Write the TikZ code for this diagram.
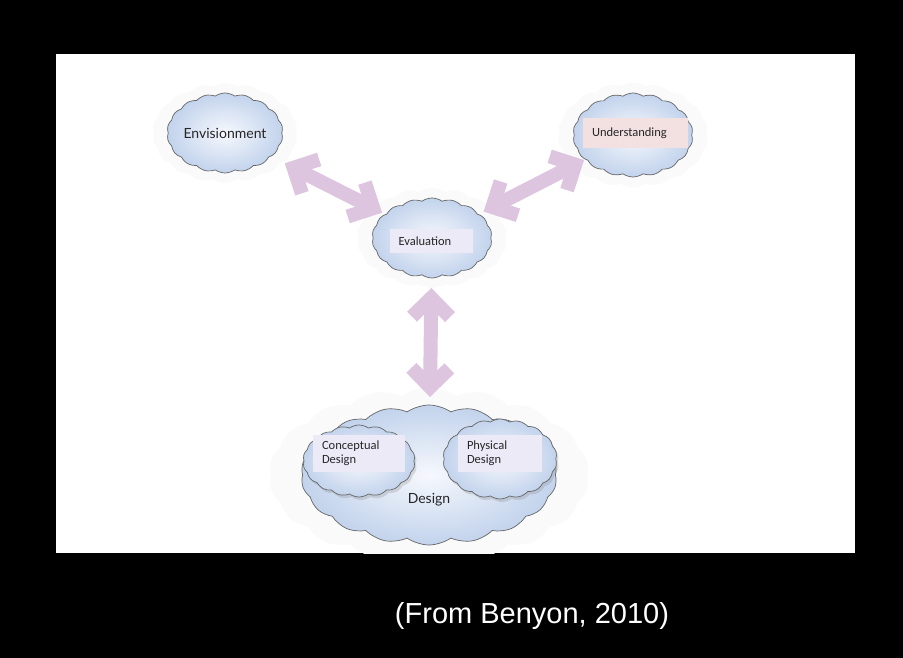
\documentclass[tikz,border=0pt]{standalone}
\usepackage{fontspec}
\setmainfont{Carlito}
\newfontfamily\gillfont{Lato}
\newfontfamily\arialfont{Liberation Sans}
\usetikzlibrary{shapes.symbols, shadows, arrows.meta}

\definecolor{cloudin}{RGB}{246,248,253}
\definecolor{cloudout}{RGB}{194,211,236}
\definecolor{arrowpink}{RGB}{221,197,223}
\definecolor{boxpink}{RGB}{243,225,226}
\definecolor{boxlilac}{RGB}{236,234,247}

\begin{document}
\begin{tikzpicture}[x=1pt,y=-1pt,
    bubble/.style={cloud, cloud puffs=18, cloud puff arc=70, cloud ignores aspect,
      draw=black!60, line width=0.7pt, inner color=cloudin, outer color=cloudout,
      drop shadow={opacity=0.25, shadow xshift=2pt, shadow yshift=-3pt}},
    glow/.style={general shadow={fill=black!2, shadow scale=1.25}},
    tag/.style={font=\fontsize{12.5}{14}\selectfont, text=black!85, text width=#1,
      align=left, inner xsep=9pt, inner ysep=2pt},
    link/.style={{Straight Barb[length=19pt,width=38pt,line cap=butt,line join=miter]}-{Straight Barb[length=19pt,width=38pt,line cap=butt,line join=miter]},
      draw=arrowpink, line width=14pt}]
    \useasboundingbox (0,0) rectangle (903,658);
    \fill[black] (0,0) rectangle (903,658);
    \fill[white] (56,54) rectangle (855,553);

    \begin{scope}
    \clip (56,54) rectangle (855,553);
    % clouds
    \node[bubble, glow, minimum width=116pt, minimum height=80pt] (envi) at (225,133) {};
    \node[bubble, glow, minimum width=120pt, minimum height=84pt] (und) at (633,135) {};
    \node[bubble, glow, minimum width=120pt, minimum height=80pt] (eval) at (432,238) {};
    \node[bubble, glow, minimum width=256pt, minimum height=140pt] (design) at (429,475) {};
    \node[bubble, minimum width=112pt, minimum height=72pt] (concept) at (359,461) {};
    \node[bubble, minimum width=114pt, minimum height=80pt] (phys) at (500,459) {};
    \end{scope}

    % labels
    \node[font=\gillfont\fontsize{14}{16}\selectfont, text=black!85] (envitext) at (envi) {Envisionment};
    \node[tag=87pt, fill=boxpink, minimum height=30pt] (undtext) at (635.5,133) {Understanding};
    \node[tag=65pt, fill=boxlilac, minimum height=24pt] (evaltext) at (431,241) {Evaluation};
    \node[tag=74pt, fill=boxlilac, minimum height=37pt] (concepttext) at (359,453.5) {Conceptual\\Design};
    \node[tag=66pt, fill=boxlilac, minimum height=37pt] (phystext) at (500,453.5) {Physical\\Design};
    \node[font=\gillfont\fontsize{14}{16}\selectfont, text=black!85] (designtext) at (429,500) {Design};

    % arrows
    \draw[link, shorten <=67pt, shorten >=56pt] (envi.center) -- (eval.center);
    \draw[link, shorten <=55pt, shorten >=58pt] (und.center) -- (eval.center);
    \draw[link, shorten <=50pt, shorten >=78pt] (eval.center) -- (design.center);

    \node[font=\arialfont\fontsize{29}{34}\selectfont, text=white, anchor=base] (credit) at (532,623) {(From Benyon, 2010)};
\end{tikzpicture}
\end{document}
